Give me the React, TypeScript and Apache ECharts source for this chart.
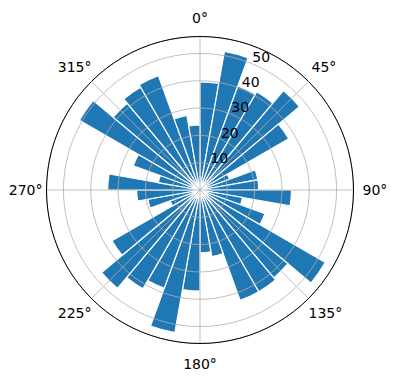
import React, { useEffect, useRef } from 'react';
import * as echarts from 'echarts';

// Sector start angles (degrees, clockwise from north), 10° wide each
const sectorStarts = [
  0, 10, 20, 30, 40, 50, 60, 70, 80, 90, 100, 110,
  120, 130, 140, 150, 160, 170, 180, 190, 200, 210, 220, 230,
  240, 250, 260, 270, 280, 290, 300, 310, 320, 330, 340, 350,
];
// Bar lengths (radius values)
const radii = [
  39.6, 51.5, 40.5, 41.5, 47.5, 37.5, 11.5, 21.5, 21.5, 33.5, 15.8, 25.3,
  53.0, 42.0, 43.0, 43.0, 24.8, 23.0, 37.0, 53.0, 38.3, 41.8, 47.0, 37.2,
  11.6, 19.4, 23.2, 33.8, 15.5, 26.0, 51.0, 41.5, 43.5, 44.5, 27.7, 23.8,
];
const angleTicks = [0, 45, 90, 135, 180, 225, 270, 315];
const radialTicks = [10, 20, 30, 40, 50];
const rMax = 56.2;

export default function App() {
  const ref = useRef<HTMLDivElement>(null);
  useEffect(() => {
    const chart = echarts.init(ref.current!, null, { renderer: 'svg' });
    const center = [200, 190];
    const radius = 153.5;
    const font = 'DejaVu Sans';
    const base = { fontSize: 14, fontFamily: font, color: '#000000' };
    // padding per angle label: [top, right, bottom, left]
    const pads: Record<string, number[]> = {
      a0: [0, 0, 12, 0],
      a45: [0, 0, 7, 3],
      a90: [0, 0, 0, 9],
      a135: [7, 0, 0, 0],
      a180: [13, 0, 0, 0],
      a225: [7, 0, 0, 0],
      a270: [0, 4, 0, 0],
      a315: [0, 0, 7, 0],
    };
    const rich: Record<string, any> = {};
    Object.keys(pads).forEach((k) => {
      rich[k] = { ...base, padding: pads[k] };
    });
    chart.setOption({
      animation: false,
      polar: [
        { center, radius },
        { center, radius },
        { center, radius },
      ],
      angleAxis: [
        {
          polarIndex: 0,
          type: 'value',
          min: 0,
          max: 360,
          interval: 45,
          startAngle: 90,
          clockwise: true,
          z: 10,
          axisLine: { show: true, lineStyle: { color: '#000000', width: 1 } },
          axisTick: { show: false },
          splitLine: { show: true, lineStyle: { color: '#b0b0b0', width: 0.8 } },
          axisLabel: {
            formatter: (v: number) => (angleTicks.includes(v) ? `{a${v}|${v}°}` : ''),
            ...base,
            margin: 0,
            rich,
          },
        },
        {
          polarIndex: 1,
          type: 'category',
          data: sectorStarts.map(String),
          startAngle: 90,
          clockwise: true,
          boundaryGap: true,
          axisLine: { show: false },
          axisTick: { show: false },
          axisLabel: { show: false },
          splitLine: { show: false },
        },
        {
          polarIndex: 2,
          type: 'value',
          min: 0,
          max: 360,
          startAngle: 67.5,
          clockwise: true,
          axisLine: { show: false },
          axisTick: { show: false },
          axisLabel: { show: false },
          splitLine: { show: false },
        },
      ],
      radiusAxis: [
        {
          polarIndex: 0,
          type: 'value',
          min: 0,
          max: rMax,
          interval: 10,
          z: 10,
          axisLine: { show: false },
          axisTick: { show: false },
          axisLabel: { show: false },
          splitLine: { show: true, lineStyle: { color: '#b0b0b0', width: 0.8 } },
        },
        {
          polarIndex: 1,
          type: 'value',
          min: 0,
          max: rMax,
          axisLine: { show: false },
          axisTick: { show: false },
          axisLabel: { show: false },
          splitLine: { show: false },
        },
        {
          polarIndex: 2,
          type: 'value',
          min: 0,
          max: rMax,
          interval: 10,
          z: 11,
          axisLine: { show: false },
          axisTick: { show: false },
          splitLine: { show: false },
          axisLabel: {
            formatter: (v: number) => (radialTicks.includes(v) ? String(v) : ''),
            ...base,
            margin: 0,
            align: 'left',
            verticalAlign: 'bottom',
          },
        },
      ],
      series: [
        {
          type: 'bar',
          coordinateSystem: 'polar',
          polarIndex: 1,
          data: radii,
          barCategoryGap: '0%',
          itemStyle: { color: '#1f77b4', borderColor: '#ffffff', borderWidth: 1.2 },
        },
      ],
    });
    return () => chart.dispose();
  }, []);
  return (
    <div
      ref={ref}
      style={{ position: 'fixed', left: 0, top: 0, width: 396, height: 380, background: '#ffffff' }}
    />
  );
}
